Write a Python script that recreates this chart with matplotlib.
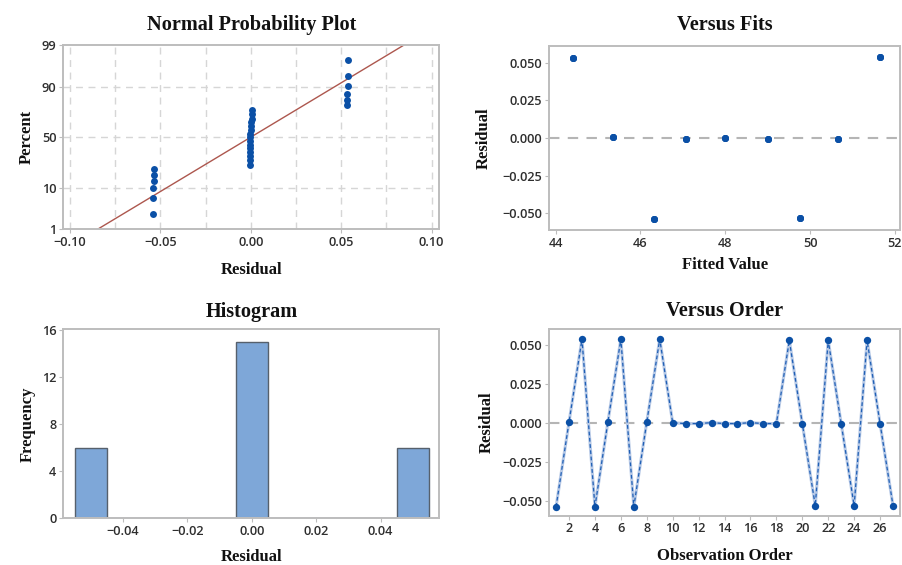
import numpy as np
import matplotlib
matplotlib.use("Agg")
import matplotlib.pyplot as plt
from statistics import NormalDist

# ---------------- data ----------------
observation = list(range(1, 28))
residuals = [-0.0540, 0.0005, 0.0538, -0.0540, 0.0005, 0.0538, -0.0540, 0.0005, 0.0538,
             0.0000, -0.0005, -0.0005, 0.0001, -0.0005, -0.0005, 0.0001, -0.0005, -0.0005,
             0.0530, -0.0005, -0.0533, 0.0530, -0.0005, -0.0533, 0.0530, -0.0005, -0.0533]
fitted = [46.33, 45.35, 51.65, 46.33, 45.35, 51.65, 46.33, 45.35, 51.65,
          48.00, 47.07, 49.00, 48.00, 47.07, 49.00, 48.00, 47.07, 49.00,
          44.40, 50.65, 49.75, 44.40, 50.65, 49.75, 44.40, 50.65, 49.75]
npp_xticks = [-0.10, -0.05, 0.00, 0.05, 0.10]
npp_grid_x = [-0.10, -0.075, -0.05, -0.025, 0.0, 0.025, 0.05, 0.075, 0.10]
pct_ticks = [1, 10, 50, 90, 99]
pct_grid = [10, 50, 90]
fits_xticks = [44, 46, 48, 50, 52]
res_yticks = [-0.050, -0.025, 0.000, 0.025, 0.050]
hist_bins = [-0.055, -0.045, -0.035, -0.025, -0.015, -0.005, 0.005, 0.015, 0.025, 0.035, 0.045, 0.055]
hist_xticks = [-0.04, -0.02, 0.00, 0.02, 0.04]
hist_yticks = [0, 4, 8, 12, 16]
order_xticks = list(range(2, 27, 2))

# ---------------- style ----------------
BLUE = "#0b50a6"
SPINE = "#bdbdbd"
GRID = "#d6d6d6"
TICKC = "#2e2e2e"
TFONT = dict(family="Liberation Serif", weight="bold", size=14.6, color="#111111")
LFONT = dict(family="Liberation Serif", weight="bold", size=12, color="#111111")

plt.rcParams["font.family"] = ["Open Sans", "DejaVu Sans"]

fig = plt.figure(figsize=(9.02, 5.65), dpi=100)
ax1 = fig.add_axes([0.0702, 0.5942, 0.4168, 0.3256])
ax2 = fig.add_axes([0.6090, 0.5929, 0.3888, 0.3262])
ax3 = fig.add_axes([0.0702, 0.0827, 0.4168, 0.3345])
ax4 = fig.add_axes([0.6090, 0.0876, 0.3888, 0.3301])


def style(ax):
    for s in ax.spines.values():
        s.set_color(SPINE)
        s.set_linewidth(1.4)
    ax.tick_params(axis="both", colors=SPINE, labelcolor=TICKC, labelsize=9.2, length=3,
                   width=0.8, pad=2)
    for lab in ax.get_xticklabels() + ax.get_yticklabels():
        lab.set_fontweight("semibold")


nd = NormalDist()
_ppf = np.vectorize(lambda p: nd.inv_cdf(min(max(p, 1e-9), 1 - 1e-9)), otypes=[float])
_cdf = np.vectorize(lambda z: nd.cdf(z), otypes=[float])


def fwd(pct):
    a = np.asarray(pct, dtype=float)
    if a.size == 0:
        return a
    return _ppf(a / 100.0)


def inv(z):
    a = np.asarray(z, dtype=float)
    if a.size == 0:
        return a
    return _cdf(a) * 100.0


# ---- Normal probability plot ----
r = np.sort(np.array(residuals))
n = len(r)
pct = (np.arange(1, n + 1) - 0.3) / (n + 0.4) * 100
mu = np.mean(r)
sd = np.std(r, ddof=1)
ax1.set_yscale("function", functions=(fwd, inv))
for gx in npp_grid_x:
    ax1.axvline(gx, color=GRID, lw=1, ls=(0, (5, 4)), zorder=0)
for gy in pct_grid:
    ax1.axhline(gy, color=GRID, lw=1, ls=(0, (5, 4)), zorder=0)
xl = np.linspace(-0.11, 0.11, 200)
ax1.plot(xl, inv((xl - mu) / sd), color="#ad574e", lw=1.0, zorder=2)
ax1.scatter(r, pct, s=25, color=BLUE, zorder=3, linewidths=0)
ax1.set_xlim(-0.1037, 0.1042)
ax1.set_ylim(1, 99)
ax1.set_xticks(npp_xticks)
ax1.set_xticklabels([f"{v:.2f}".replace("-", "\u2212") for v in npp_xticks])
ax1.set_yticks(pct_ticks)
ax1.set_yticklabels([str(v) for v in pct_ticks])
ax1.minorticks_off()
ax1.set_title("Normal Probability Plot", pad=11, **TFONT)
ax1.set_xlabel("Residual", labelpad=9, **LFONT)
ax1.set_ylabel("Percent", **LFONT)
ax1.yaxis.set_label_coords(-0.075, 0.5)
style(ax1)

# ---- Versus fits ----
ax2.axhline(0, color="#b5b5b5", lw=1.5, ls=(0, (5, 4)), zorder=1)
ax2.scatter(fitted, residuals, s=25, color=BLUE, zorder=3, linewidths=0)
ax2.set_xlim(43.85, 52.12)
ax2.set_ylim(-0.0611, 0.0613)
ax2.set_xticks(fits_xticks)
ax2.set_yticks(res_yticks)
ax2.set_yticklabels([f"{v:.3f}".replace("-", "\u2212") for v in res_yticks])
ax2.set_title("Versus Fits", pad=11, **TFONT)
ax2.set_xlabel("Fitted Value", labelpad=5, **LFONT)
ax2.set_ylabel("Residual", **LFONT)
ax2.yaxis.set_label_coords(-0.163, 0.5)
style(ax2)

# ---- Histogram ----
ax3.hist(residuals, bins=hist_bins, color="#7ea7d8", edgecolor="#56606c", linewidth=1.0, zorder=2)
ax3.set_xlim(-0.0585, 0.0582)
ax3.set_ylim(0, 16.1)
ax3.set_xticks(hist_xticks)
ax3.set_xticklabels([f"{v:.2f}".replace("-", "\u2212") for v in hist_xticks])
ax3.set_yticks(hist_yticks)
ax3.set_title("Histogram", pad=9, **TFONT)
ax3.set_xlabel("Residual", labelpad=8, **LFONT)
ax3.set_ylabel("Frequency", **LFONT)
ax3.yaxis.set_label_coords(-0.072, 0.5)
style(ax3)

# ---- Versus order ----
ax4.axhline(0, color="#b5b5b5", lw=1.5, ls=(0, (5, 4)), zorder=1)
ax4.plot(observation, residuals, color="#b7c9e6", lw=2.2, zorder=2)
ax4.plot(observation, residuals, color="#1f5fb5", lw=0.9, ls=(0, (3, 2)), zorder=3)
ax4.scatter(observation, residuals, s=28, color=BLUE, zorder=4, linewidths=0)
ax4.set_xlim(0.48, 27.54)
ax4.set_ylim(-0.0596, 0.0603)
ax4.set_xticks(order_xticks)
ax4.set_yticks(res_yticks)
ax4.set_yticklabels([f"{v:.3f}".replace("-", "\u2212") for v in res_yticks])
ax4.set_title("Versus Order", pad=9, **TFONT)
ax4.set_xlabel("Observation Order", labelpad=9, **LFONT)
ax4.set_ylabel("Residual", **LFONT)
ax4.yaxis.set_label_coords(-0.155, 0.5)
style(ax4)

fig.savefig("out.png", dpi=100)
